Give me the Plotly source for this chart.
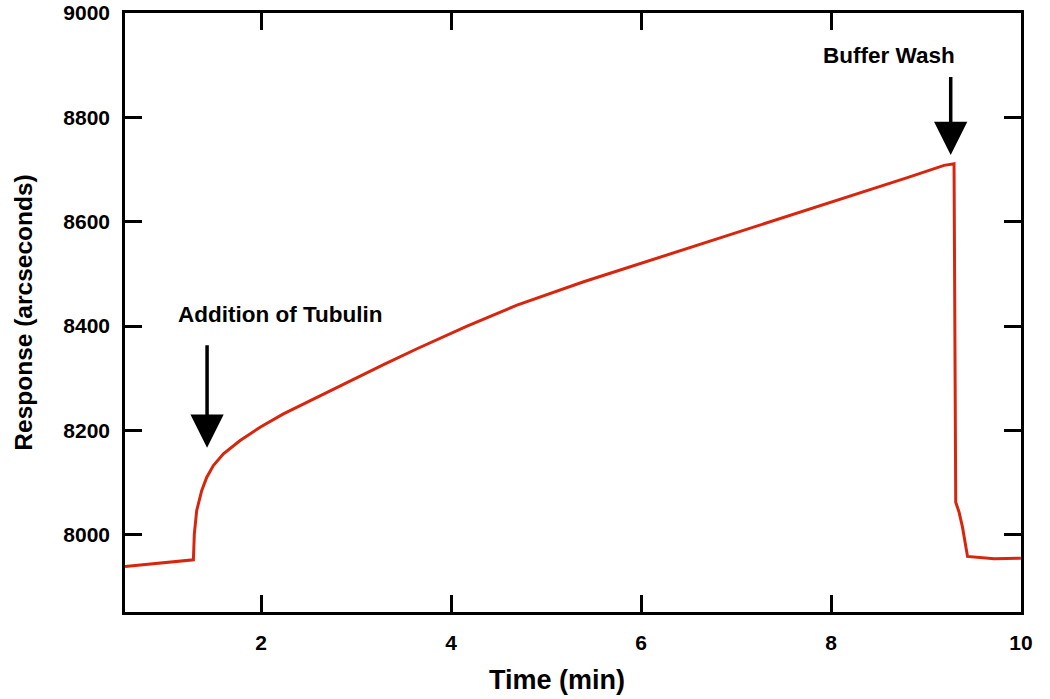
import plotly.graph_objects as go

# Data
time_min = [0.567, 0.83, 1.287, 1.297, 1.322, 1.375, 1.428, 1.497, 1.603, 1.779,
            1.989, 2.235, 2.587, 2.938, 3.289, 3.641, 4.168, 4.694, 5.045, 5.396,
            5.748, 6.099, 6.977, 7.890, 8.804, 9.190, 9.295, 9.313, 9.348, 9.384,
            9.437, 9.717, 9.998]
response = [7939.3, 7944.4, 7952.1, 8001.9, 8046.6, 8084.9, 8110.3, 8132.8, 8155.2, 8180.7,
            8206.1, 8231.8, 8263.5, 8295.0, 8326.0, 8356.5, 8400.0, 8440.0, 8463.0, 8485.0,
            8505.5, 8526.0, 8577.0, 8630.5, 8684.5, 8708.0, 8711.0, 8062.5, 8043.3, 8014.6,
            7958.4, 7954.0, 7955.2]

x_ticks = [2, 4, 6, 8, 10]
y_ticks = [8000, 8200, 8400, 8600, 8800, 9000]

x_title = "Time (min)"
y_title = "Response (arcseconds)"

# Annotation events: (label, x of arrow, arrow tip y, arrow tail y, text x, text y)
events = [
    ("Addition of Tubulin", 1.431, 8167, 8366, 2.2, 8422),
    ("Buffer Wash", 9.26, 8728, 8880, 8.61, 8918),
]

FONT = "Liberation Sans, Arial, sans-serif"
line_color = "#d8260e"

fig = go.Figure()
fig.add_trace(go.Scatter(x=time_min, y=response, mode="lines",
                         line=dict(color=line_color, width=3), showlegend=False,
                         hoverinfo="x+y"))

for label, ax_x, tip_y, tail_y, tx, ty in events:
    fig.add_annotation(x=ax_x, y=tip_y, ax=ax_x, ay=tail_y, xref="x", yref="y",
                       axref="x", ayref="y", showarrow=True, arrowhead=2,
                       arrowsize=1.9, arrowwidth=3.5, arrowcolor="black", text="")
    fig.add_annotation(x=tx, y=ty, xref="x", yref="y", text="<b>%s</b>" % label,
                       showarrow=False, font=dict(family=FONT, size=22.5, color="black"))

# x-axis title (placed slightly left of centre, as in the reference)
fig.add_annotation(x=0.482, y=0, xref="paper", yref="paper", yanchor="middle",
                   xanchor="center", yshift=-68, showarrow=False,
                   text="<b>%s</b>" % x_title,
                   font=dict(family=FONT, size=27, color="black"))

axis_common = dict(showline=True, linecolor="black", linewidth=2.5, mirror="ticks",
                   ticks="inside", ticklen=17, tickwidth=2.5, tickcolor="black",
                   showgrid=False, zeroline=False, automargin=False,
                   ticklabeloverflow="allow",
                   tickfont=dict(family=FONT, size=21, color="black"))

fig.update_xaxes(range=[0.567, 10.0], tickvals=x_ticks,
                 ticktext=["<b>%d</b>" % v for v in x_ticks], ticklabelstandoff=10,
                 **axis_common)
fig.update_yaxes(range=[7852, 9000], tickvals=y_ticks,
                 ticktext=["<b>%d</b>" % v for v in y_ticks], ticklabelstandoff=8,
                 title=dict(text="<b>%s</b>" % y_title, font=dict(family=FONT, size=24.5, color="black"),
                            standoff=24),
                 **axis_common)

fig.update_layout(width=1050, height=699, margin=dict(l=125, r=29, t=13, b=87),
                  paper_bgcolor="white", plot_bgcolor="white")

# remove the default page margin so the figure fills the window exactly
fig.write_html("out.html", config={"displayModeBar": False},
               post_script="document.body.style.margin='0';document.body.style.overflow='hidden';")
